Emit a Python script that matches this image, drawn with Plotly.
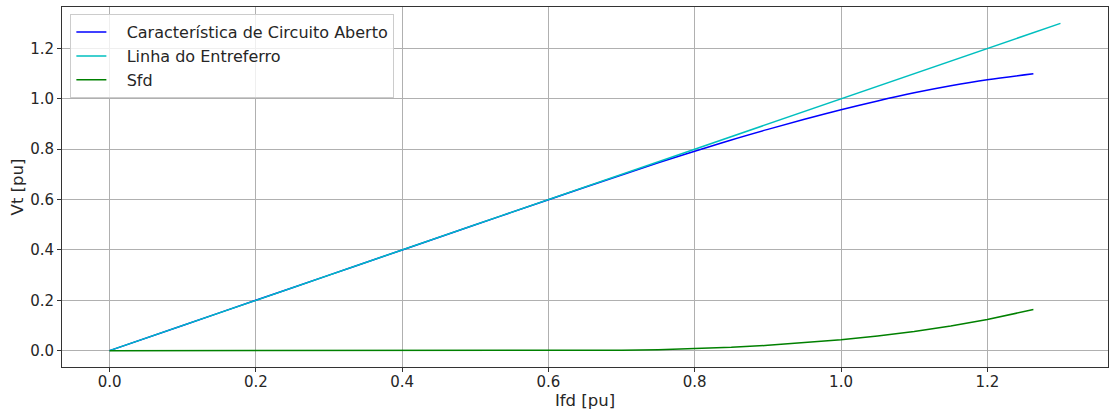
import plotly.graph_objects as go

# Field current [pu]
ifd = [0.0, 0.1, 0.2, 0.3, 0.4, 0.5, 0.6, 0.65, 0.7, 0.75, 0.8, 0.85,
       0.9, 0.95, 1.0, 1.05, 1.1, 1.15, 1.2, 1.263]
# Open-circuit characteristic: terminal voltage [pu]
vt_occ = [0.0, 0.1, 0.2, 0.3, 0.4, 0.4998, 0.5995, 0.649, 0.698, 0.746, 0.792,
          0.837, 0.879, 0.919, 0.957, 0.992, 1.024, 1.052, 1.076, 1.100]
# Saturation term Sfd [pu]
sfd = [0.0, 0.0, 0.0, 0.0, 0.0, 0.0002, 0.0005, 0.001, 0.002, 0.004, 0.008,
       0.013, 0.021, 0.031, 0.043, 0.058, 0.076, 0.098, 0.124, 0.163]
# Air-gap line
ifd_ag = [0.0, 1.3]
vt_ag = [0.0, 1.3]

FONT = "DejaVu Sans"
PAD = "\u00a0\u00a0\u00a0"  # gap between legend sample and label

fig = go.Figure()
fig.add_trace(go.Scatter(x=ifd, y=vt_occ, mode="lines", line=dict(color="#0000ff", width=1.5, shape="spline"),
                         name=PAD + "Característica de Circuito Aberto"))
fig.add_trace(go.Scatter(x=ifd_ag, y=vt_ag, mode="lines", line=dict(color="#00bfbf", width=1.5),
                         name=PAD + "Linha do Entreferro"))
fig.add_trace(go.Scatter(x=ifd, y=sfd, mode="lines", line=dict(color="#008000", width=1.5),
                         name=PAD + "Sfd"))

axis_common = dict(
    showgrid=True, gridcolor="#b0b0b0", gridwidth=0.8,
    showline=True, linecolor="#333333", linewidth=1, mirror=True,
    ticks="outside", ticklen=4, tickcolor="#333333", tickwidth=1,
    zeroline=False, automargin=False,
    tickfont=dict(family=FONT, size=15, color="#262626"),
)
ticks = [0.0, 0.2, 0.4, 0.6, 0.8, 1.0, 1.2]
labels = ["0.0", "0.2", "0.4", "0.6", "0.8", "1.0", "1.2"]
fig.update_xaxes(range=[-0.065, 1.365], tickvals=ticks, ticktext=labels, ticklabelstandoff=-3,
                 title=dict(text="Ifd [pu]", font=dict(family=FONT, size=16.5, color="#262626"), standoff=4),
                 **axis_common)
fig.update_yaxes(range=[-0.065, 1.365], tickvals=ticks, ticktext=labels,
                 title=dict(text="Vt [pu]", font=dict(family=FONT, size=16.5, color="#262626"), standoff=2),
                 **axis_common)
fig.update_layout(
    width=1110, height=410,
    margin=dict(l=62, r=2, t=7, b=43),
    plot_bgcolor="white", paper_bgcolor="white",
    font=dict(family=FONT, size=15, color="#262626"),
    legend=dict(x=0.008, y=0.98, xanchor="left", yanchor="top",
                bgcolor="rgba(255,255,255,0.8)", bordercolor="#cccccc", borderwidth=1,
                font=dict(family=FONT, size=16, color="#262626"), tracegroupgap=0),
    showlegend=True,
)
fig.write_html("out.html")
